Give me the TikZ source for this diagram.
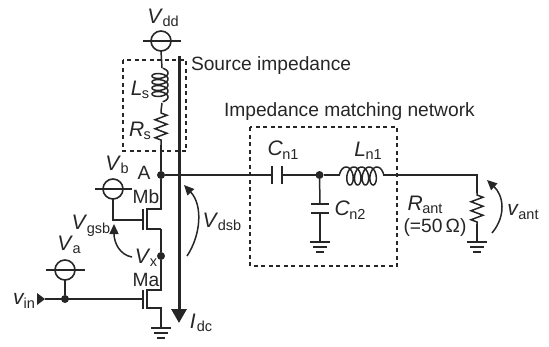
\documentclass[tikz,border=0pt]{standalone}
\usepackage{fontspec}
\setmainfont{Liberation Sans}
\usetikzlibrary{decorations.pathmorphing,arrows.meta}
\newcommand{\lab}[3][-0.5pt]{{\fontsize{21}{21}\selectfont\textit{#2}}\kern#1\raisebox{-3.5pt}{\fontsize{14.5}{14.5}\selectfont #3}}
\begin{document}
\begin{tikzpicture}[x=1pt,y=-1pt,line width=1.5pt,draw=black!85,text=black!85,font=\fontsize{19.2}{20}\selectfont]
	\tikzstyle{every node}=[inner sep=0pt,outer sep=0pt]
	\tikzstyle{src}=[circle,draw=black!85,line width=1.6pt,minimum size=20pt]
	\tikzstyle{dot}=[circle,fill=black!85,minimum size=8pt]
	\tikzstyle{box}=[dashed,dash pattern=on 4pt off 3.5pt,line width=1.4pt]
	\tikzstyle{zig}=[decorate,decoration={zigzag,segment length=9pt,amplitude=6pt,pre length=2pt,post length=2pt}]
	\tikzstyle{volt}=[-{Triangle[length=10pt,width=9pt]},line width=1.5pt]
	\useasboundingbox (0,0) rectangle (549,346);
	% sources and dots
	\node(Vdd)[src] at (161,41){};
	\node(Vb)[src] at (113,189){};
	\node(Va)[src] at (65,270){};
	\node(A)[dot] at (161,175){};
	\node(X)[dot] at (161,256){};
	\node(G)[dot] at (65,299){};
	\node(N)[dot] at (319.5,175){};
	% junction points
	\coordinate(LsT) at (162,68);
	\coordinate(LsB) at (162,103);
	\coordinate(RsT) at (161,111);
	\coordinate(RsB) at (161,145);
	\coordinate(MbD) at (161,209);
	\coordinate(MbS) at (161,229);
	\coordinate(MaD) at (161,290);
	\coordinate(MaS) at (161,308);
	\coordinate(GndA) at (161,328);
	\coordinate(GndB) at (320,242);
	\coordinate(GndC) at (477,242);
	\coordinate(C1L) at (272,175);
	\coordinate(C1R) at (282,175);
	\coordinate(L1L) at (340,175);
	\coordinate(L1R) at (383,175);
	\coordinate(C2T) at (320,204);
	\coordinate(C2B) at (320,213);
	\coordinate(Rt) at (477,175);
	\coordinate(Ra) at (477,193);
	\coordinate(Rb) at (477,224);
	\coordinate(MbG) at (143,220);
	\coordinate(MaG) at (143,299);
	\coordinate(In) at (45,299);
	% supply branch
	\draw(Vdd.south)--(LsT);
	\draw[shift={(160,76)}] plot[domain=-250:1330,samples=160,smooth,variable=\t] ({-8*cos(\t)},{6*\t/360-3.8*sin(\t)});
	\draw(LsB)--(RsT);
	\draw[zig](RsT)--(RsB);
	\draw(RsB)--(A);
	% bars through sources
	\draw([xshift=-18pt]Vdd.center)--([xshift=20pt]Vdd.center);
	\draw([xshift=-18pt]Vb.center)--([xshift=19pt]Vb.center);
	\draw([xshift=-19pt]Va.center)--([xshift=20pt]Va.center);
	% transistors
	\draw(A)--(MbD)--++(-14,0)--++(0,20)--(MbS);
	\draw(MbS)--(X)--(MaD)--++(-14,0)--++(0,18)--(MaS)--(GndA);
	\draw(143,209)--(143,230);
	\draw(143,290)--(143,309);
	\draw(Vb.south)|-(MbG);
	\draw(Va.south)--(G);
	\draw(In)--(MaG);
	\fill[black!85](45,299)--(37,293)--(37,305)--cycle;
	% output branch
	\draw(A)--(C1L);
	\draw(272,166)--(272,184);
	\draw(282,166)--(282,184);
	\draw(C1R)--(N)--(L1L);
	\draw[shift={(350,176)}] plot[domain=-260:1340,samples=160,smooth,variable=\t] ({7.7*\t/360-5*sin(\t)},{9*cos(\t)});
	\draw(L1R)--(Rt)--(Ra);
	\draw[zig](Ra)--(Rb);
	\draw(Rb)--(GndC);
	\draw(N)--(C2T);
	\draw(311,204)--(329,204);
	\draw(311,213)--(329,213);
	\draw(C2B)--(GndB);
	% grounds
	\foreach \g in {GndA,GndB,GndC}{
		\draw([xshift=-10pt]\g)--([xshift=10pt]\g);
		\draw([xshift=-7pt,yshift=-5pt]\g)--([xshift=7pt,yshift=-5pt]\g);
		\draw([xshift=-4pt,yshift=-10pt]\g)--([xshift=4pt,yshift=-10pt]\g);
	}
	% dashed boxes
	\draw[box](123,60) rectangle (186,151);
	\draw[box](250,127) rectangle (397,266);
	% current and voltage arrows
	\draw[-{Triangle[length=14pt,width=15pt]},line width=3pt](179,56)--(179,323);
	\draw[volt](187,256) .. controls (201,235) and (203,205) .. (184,185);
	\draw[volt](132,257) .. controls (120,255) and (114,243) .. (114,224);
	\draw[volt](492,233) .. controls (507,215) and (503,195) .. (487,180);
	% labels
	\node(tVdd) at (163,18){\lab{V}{dd}};
	\node(tLs) at (140,90){\lab{L}{s}};
	\node(tRs) at (140,131){\lab{R}{s}};
	\node(tVb) at (117,165){\lab{V}{b}};
	\node(tA) at (144,173){A};
	\node(tMb) at (146,197){Mb};
	\node(tMa) at (146,280){Ma};
	\node(tVgsb) at (91,226){\lab{V}{gsb}};
	\node(tVx) at (146,258){\lab{V}{x}};
	\node(tVa) at (69,245){\lab{V}{a}};
	\node(tVin) at (24,301){\lab[-1pt]{v}{in}};
	\node(tIdc) at (201,323){\lab[1pt]{I}{dc}};
	\node(tVdsb) at (222,222){\lab{V}{dsb}};
	\node(tSrc)[anchor=west] at (191,66){Source impedance};
	\node(tNet)[anchor=west] at (224,112){Impedance matching network};
	\node(tCn1) at (283,150){\lab{C}{n1}};
	\node(tLn1) at (368,151){\lab{L}{n1}};
	\node(tCn2) at (350,210){\lab{C}{n2}};
	\node(tRant) at (425,205){\lab{R}{ant}};
	\node(tVal) at (435,228){(=50\,Ω)};
	\node(tVant) at (523,212){\lab{v}{ant}};
\end{tikzpicture}
\end{document}
